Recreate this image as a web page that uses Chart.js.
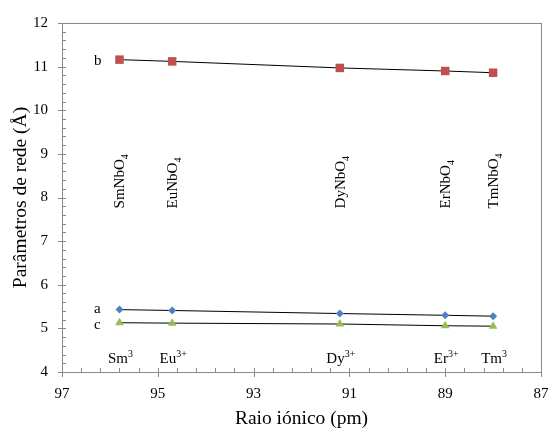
<!DOCTYPE html>
<html>
<head>
<meta charset="utf-8">
<script src="https://cdn.jsdelivr.net/npm/chart.js@4/dist/chart.umd.min.js"></script>
<style>
    html, body { margin: 0; padding: 0; background: #fff; }
    #wrap { width: 549px; height: 430px; }
</style>
</head>
<body>
<div id="wrap"><canvas id="redeChart"></canvas></div>
<script>
// Ionic radius (pm) of each rare-earth ion
const raioIonico = [95.8, 94.7, 91.2, 89.0, 88.0];
const elementos = ['Sm', 'Eu', 'Dy', 'Er', 'Tm'];
const cargaIon = ['3', '3+', '3+', '3+', '3'];

// Lattice parameters (Å)
const paramA = [5.43, 5.41, 5.34, 5.30, 5.28];
const paramB = [11.16, 11.12, 10.97, 10.90, 10.86];
const paramC = [5.13, 5.12, 5.10, 5.06, 5.05];

const xTicks = [87, 89, 91, 93, 95, 97];
const yTicks = [4, 5, 6, 7, 8, 9, 10, 11, 12];

const SERIF = '"Liberation Serif", "Times New Roman", serif';
const FRAME = '#8a8a8a';

const toPoints = ys => raioIonico.map((x, i) => ({ x: x, y: ys[i] }));

function serie(label, ys, color, style, radius) {
    return {
        label: label,
        data: toPoints(ys),
        showLine: true,
        borderColor: '#000',
        borderWidth: 1,
        pointStyle: style,
        pointRadius: radius,
        pointHoverRadius: radius,
        pointBackgroundColor: color,
        pointBorderColor: color,
        pointBorderWidth: 0,
        tension: 0
    };
}

// draws text made of normal / sub / sup pieces, starting at x
function drawRich(ctx, parts, x, y) {
    let cx = x;
    parts.forEach(p => {
        const small = p.k !== 'n';
        ctx.font = (small ? '10px ' : '15px ') + SERIF;
        const dy = p.k === 'sup' ? -6 : (p.k === 'sub' ? 4 : 0);
        ctx.fillText(p.t, cx, y + dy);
        cx += ctx.measureText(p.t).width;
    });
}

function richWidth(ctx, parts) {
    let w = 0;
    parts.forEach(p => {
        ctx.font = (p.k !== 'n' ? '10px ' : '15px ') + SERIF;
        w += ctx.measureText(p.t).width;
    });
    return w;
}

const extras = {
    id: 'extras',
    afterDraw(chart) {
        const ctx = chart.ctx;
        const xs = chart.scales.x, ys = chart.scales.y;
        const area = chart.chartArea;
        ctx.save();

        // frame
        ctx.strokeStyle = FRAME;
        ctx.lineWidth = 1;
        ctx.strokeRect(Math.round(area.left) + 0.5, Math.round(area.top) + 0.5,
            Math.round(area.right - area.left), Math.round(area.bottom - area.top));

        // y tick marks: minor every 0.2, major at integers
        ctx.beginPath();
        for (let i = 0; i <= 40; i++) {
            const v = 4 + i * 0.2;
            const py = Math.round(ys.getPixelForValue(v)) + 0.5;
            const major = i % 5 === 0;
            ctx.moveTo(area.left - (major ? 4 : 0), py);
            ctx.lineTo(area.left + 4, py);
        }
        // x tick marks: minor every 0.4, major every 2
        for (let i = 0; i <= 25; i++) {
            const v = 87 + i * 0.4;
            const px = Math.round(xs.getPixelForValue(v)) + 0.5;
            const major = i % 5 === 0;
            ctx.moveTo(px, area.bottom + (major ? 5 : 0));
            ctx.lineTo(px, area.bottom - 4);
        }
        ctx.stroke();

        ctx.fillStyle = '#000';
        ctx.textBaseline = 'alphabetic';
        ctx.textAlign = 'left';

        // series letters
        ctx.font = '15px ' + SERIF;
        const lx = xs.getPixelForValue(96.25);
        ctx.fillText('b', lx - 4, ys.getPixelForValue(paramB[0]) + 5);
        ctx.fillText('a', lx - 4, ys.getPixelForValue(paramA[0]) + 3);
        ctx.fillText('c', lx - 4, ys.getPixelForValue(paramC[0]) + 6);

        // compound names, rotated
        elementos.forEach((el, i) => {
            const px = xs.getPixelForValue(raioIonico[i]);
            const py = ys.getPixelForValue(7.75);
            ctx.save();
            ctx.translate(px + 5, py);
            ctx.rotate(-Math.PI / 2);
            drawRich(ctx, [{ t: el + 'NbO', k: 'n' }, { t: '4', k: 'sub' }], 0, 0);
            ctx.restore();
        });

        // ion labels
        elementos.forEach((el, i) => {
            const parts = [{ t: el, k: 'n' }, { t: cargaIon[i], k: 'sup' }];
            const w = richWidth(ctx, parts);
            const px = xs.getPixelForValue(raioIonico[i]);
            drawRich(ctx, parts, px - w / 2 + 1, ys.getPixelForValue(4.2));
        });

        ctx.restore();
    }
};

new Chart(document.getElementById('redeChart'), {
    type: 'scatter',
    data: {
        datasets: [
            serie('b', paramB, '#c0504d', 'rect', 6),
            serie('a', paramA, '#4f81bd', 'rectRot', 4),
            serie('c', paramC, '#9bbb59', 'triangle', 5)
        ]
    },
    options: {
        responsive: true,
        maintainAspectRatio: false,
        animation: false,
        layout: { padding: { top: 16, right: 8, left: 0, bottom: 0 } },
        plugins: {
            legend: { display: false },
            tooltip: { enabled: false }
        },
        scales: {
            x: {
                type: 'linear',
                min: 87,
                max: 97,
                reverse: true,
                afterBuildTicks: s => { s.ticks = xTicks.map(v => ({ value: v })); },
                afterFit: s => { s.height = 58; },
                grid: { display: false, drawTicks: false },
                border: { display: false },
                ticks: {
                    padding: 13,
                    color: '#000',
                    font: { family: SERIF, size: 15 }
                },
                title: {
                    display: true,
                    text: 'Raio iónico (pm)',
                    color: '#000',
                    font: { family: SERIF, size: 19.5 },
                    padding: { top: 0, bottom: -1 }
                }
            },
            y: {
                min: 4,
                max: 12,
                afterBuildTicks: s => { s.ticks = yTicks.map(v => ({ value: v })); },
                afterFit: s => { s.width = 62; },
                grid: { display: false, drawTicks: false },
                border: { display: false },
                ticks: {
                    padding: 14,
                    color: '#000',
                    font: { family: SERIF, size: 15 }
                },
                title: {
                    display: true,
                    text: 'Parâmetros de rede (Å)',
                    color: '#000',
                    font: { family: SERIF, size: 19.5 },
                    padding: { top: 9, bottom: 0 }
                }
            }
        }
    },
    plugins: [extras]
});
</script>
</body>
</html>
